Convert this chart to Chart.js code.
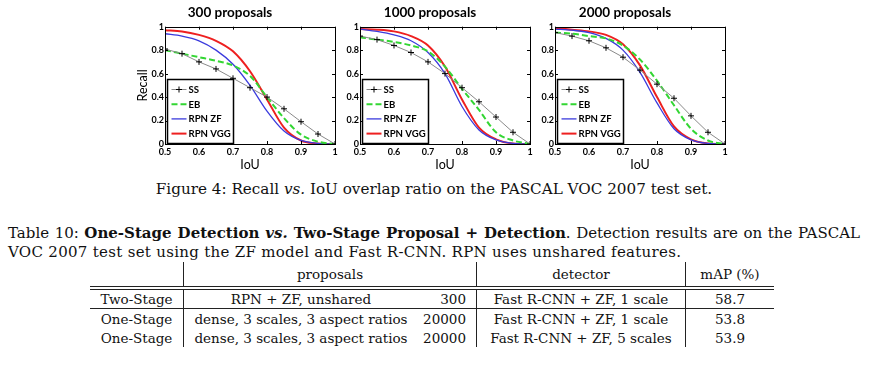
<!DOCTYPE html>
<html>
<head>
<meta charset="utf-8">
<script src="https://cdn.jsdelivr.net/npm/chart.js@4/dist/chart.umd.min.js"></script>
<style>
  body { margin: 0; background: #fff; width: 885px; height: 379px; position: relative; overflow: hidden; }
  canvas { position: absolute; top: 0; }
  .serif { font-family: 'DejaVu Serif', 'Liberation Serif', serif; color: #111; }
  #figcap { position: absolute; top: 180px; left: 8px; width: 852px; text-align: center; font-size: 15.2px; line-height: 19px; }
  #tabcap { position: absolute; top: 224px; left: 8px; width: 852px; font-size: 15px; line-height: 19px; letter-spacing: 0.3px; }
  #tabcap .l1 { text-align: justify; text-align-last: justify; letter-spacing: 0; }
  table { position: absolute; left: 90px; top: 262px; border-collapse: collapse; font-size: 13.5px; }
  td { padding: 0; text-align: center; white-space: nowrap; }
  td.bl { border-left: 1px solid #222; }
  td.num { text-align: right; padding-right: 10px; }
  tr.hd td { height: 24px; border-bottom: 4px double #222; }
  tr.r1 td { height: 18px; border-bottom: 1px solid #222; }
  tr.r2 td, tr.r3 td { height: 19px; }
</style>
</head>
<body>
<canvas id="c1" width="222" height="172" style="left:125px"></canvas>
<canvas id="c2" width="212" height="172" style="left:330px"></canvas>
<canvas id="c3" width="212" height="172" style="left:525px"></canvas>

<div id="figcap" class="serif">Figure 4: Recall <i>vs.</i> IoU overlap ratio on the PASCAL VOC 2007 test set.</div>

<div id="tabcap" class="serif">
  <div class="l1">Table 10: <b>One-Stage Detection <i>vs.</i> Two-Stage Proposal + Detection</b>. Detection results are on the PASCAL</div>
  <div>VOC 2007 test set using the ZF model and Fast R-CNN. RPN uses unshared features.</div>
</div>

<table class="serif">
  <tr class="hd"><td style="width:93px"></td><td class="bl" colspan="2">proposals</td><td class="bl">detector</td><td class="bl">mAP (%)</td></tr>
  <tr class="r1"><td>Two-Stage</td><td class="bl" style="width:234px">RPN + ZF, unshared</td><td class="num" style="width:48px">300</td><td class="bl" style="width:208px">Fast R-CNN + ZF, 1 scale</td><td class="bl" style="width:88px">58.7</td></tr>
  <tr class="r2"><td>One-Stage</td><td class="bl">dense, 3 scales, 3 aspect ratios</td><td class="num">20000</td><td class="bl">Fast R-CNN + ZF, 1 scale</td><td class="bl">53.8</td></tr>
  <tr class="r3"><td>One-Stage</td><td class="bl">dense, 3 scales, 3 aspect ratios</td><td class="num">20000</td><td class="bl">Fast R-CNN + ZF, 5 scales</td><td class="bl">53.9</td></tr>
</table>

<script>
// data
const chartTitles = ['300 proposals', '1000 proposals', '2000 proposals'];
const seriesNames = ['SS', 'EB', 'RPN ZF', 'RPN VGG'];
const iou = [0.5, 0.55, 0.6, 0.65, 0.7, 0.75, 0.8, 0.85, 0.9, 0.95, 1];

const ss300 = [0.81, 0.77, 0.70, 0.64, 0.56, 0.48, 0.40, 0.30, 0.19, 0.085, 0];
const eb300 = [0.80, 0.77, 0.74, 0.71, 0.67, 0.58, 0.40, 0.22, 0.08, 0.02, 0];
const zf300 = [0.94, 0.92, 0.88, 0.80, 0.68, 0.50, 0.28, 0.11, 0.03, 0.005, 0];
const vgg300 = [0.97, 0.96, 0.93, 0.88, 0.79, 0.62, 0.38, 0.14, 0.03, 0.005, 0];

const ss1000 = [0.92, 0.89, 0.84, 0.78, 0.70, 0.60, 0.48, 0.36, 0.23, 0.10, 0];
const eb1000 = [0.91, 0.89, 0.87, 0.84, 0.79, 0.66, 0.47, 0.29, 0.10, 0.03, 0];
const zf1000 = [0.98, 0.96, 0.93, 0.88, 0.78, 0.60, 0.32, 0.12, 0.035, 0.005, 0];
const vgg1000 = [0.98, 0.975, 0.96, 0.92, 0.84, 0.66, 0.38, 0.14, 0.04, 0.005, 0];

const ss2000 = [0.95, 0.92, 0.88, 0.82, 0.74, 0.63, 0.51, 0.39, 0.24, 0.10, 0];
const eb2000 = [0.95, 0.94, 0.92, 0.90, 0.84, 0.72, 0.54, 0.33, 0.13, 0.03, 0];
const zf2000 = [0.98, 0.97, 0.95, 0.90, 0.80, 0.61, 0.35, 0.13, 0.035, 0.005, 0];
const vgg2000 = [0.99, 0.975, 0.96, 0.93, 0.85, 0.67, 0.40, 0.15, 0.04, 0.005, 0];

const xTicks = [0.5, 0.6, 0.7, 0.8, 0.9, 1];
const xTickLabels = ['0.5', '0.6', '0.7', '0.8', '0.9', '1'];
const yTicks = [0, 0.2, 0.4, 0.6, 0.8, 1];
const yTickLabels = ['0', '0.2', '0.4', '0.6', '0.8', '1'];

const font = 'Lato, "Open Sans", sans-serif';

function points(ys) {
  return iou.map((x, i) => ({ x: x, y: ys[i] }));
}

// frame, inward ticks and the boxed legend, matlab style
const framePlugin = {
  id: 'frame',
  afterDatasetsDraw(chart) {
    const ctx = chart.ctx;
    const a = chart.chartArea;
    const sx = chart.scales.x;
    const sy = chart.scales.y;
    ctx.save();
    ctx.strokeStyle = '#000';
    ctx.lineWidth = 1;
    ctx.beginPath();
    for (let i = 0; i < xTicks.length; i++) {
      let px = Math.round(sx.getPixelForValue(xTicks[i])) + 0.5;
      ctx.moveTo(px, a.bottom); ctx.lineTo(px, a.bottom - 3);
      ctx.moveTo(px, a.top); ctx.lineTo(px, a.top + 3);
    }
    for (let i = 0; i < yTicks.length; i++) {
      let py = Math.round(sy.getPixelForValue(yTicks[i])) + 0.5;
      ctx.moveTo(a.left, py); ctx.lineTo(a.left + 3, py);
      ctx.moveTo(a.right, py); ctx.lineTo(a.right - 3, py);
    }
    ctx.stroke();
    ctx.strokeRect(Math.round(a.left) + 0.5, Math.round(a.top) + 0.5, Math.round(a.right - a.left), Math.round(a.bottom - a.top));

    // legend box in the lower left corner
    let bx = Math.round(a.left) + 2.5;
    let by = Math.round(a.bottom) - 64.5;
    ctx.fillStyle = '#fff';
    ctx.fillRect(bx, by, 66, 64);
    ctx.lineWidth = 1.5;
    ctx.strokeRect(bx, by, 66, 64);
    ctx.font = 'bold 9.6px ' + font;
    ctx.textBaseline = 'middle';
    chart.data.datasets.forEach((ds, i) => {
      let ly = by + 10 + i * 14.7;
      ctx.strokeStyle = ds.borderColor;
      ctx.lineWidth = ds.borderWidth;
      ctx.setLineDash(ds.borderDash || []);
      ctx.beginPath();
      ctx.moveTo(bx + 4, ly); ctx.lineTo(bx + 19, ly);
      ctx.stroke();
      ctx.setLineDash([]);
      if (ds.pointRadius > 0) {
        ctx.strokeStyle = '#000';
        ctx.lineWidth = 1;
        ctx.beginPath();
        ctx.moveTo(bx + 11.5, ly - 3); ctx.lineTo(bx + 11.5, ly + 3);
        ctx.moveTo(bx + 8.5, ly); ctx.lineTo(bx + 14.5, ly);
        ctx.stroke();
      }
      ctx.fillStyle = '#000';
      ctx.fillText(ds.label, bx + 21, ly + 0.5);
    });
    ctx.restore();
  }
};

function makeChart(id, title, ss, eb, zf, vgg, yWidth, showRecall) {
  return new Chart(document.getElementById(id), {
    type: 'line',
    data: {
      datasets: [
        { label: seriesNames[0], data: points(ss), borderColor: '#8a8a8a', borderWidth: 1,
          pointStyle: 'cross', pointRadius: 3, pointBorderColor: '#000', pointBorderWidth: 1 },
        { label: seriesNames[1], data: points(eb), borderColor: '#33d633', borderWidth: 2,
          borderDash: [6, 3], pointRadius: 0, cubicInterpolationMode: 'monotone' },
        { label: seriesNames[2], data: points(zf), borderColor: '#3b3bdd', borderWidth: 1.3,
          pointRadius: 0, cubicInterpolationMode: 'monotone' },
        { label: seriesNames[3], data: points(vgg), borderColor: '#ee2020', borderWidth: 2,
          pointRadius: 0, cubicInterpolationMode: 'monotone' }
      ]
    },
    options: {
      responsive: false,
      animation: false,
      layout: { padding: { right: 12 } },
      plugins: {
        legend: { display: false },
        tooltip: { enabled: false },
        title: {
          display: true,
          text: title,
          color: '#000',
          font: { family: font, size: 13.5, weight: 'bold' },
          padding: { top: 5, bottom: 5.5 }
        }
      },
      scales: {
        x: {
          type: 'linear', min: 0.5, max: 1,
          grid: { display: false, drawTicks: false },
          border: { display: false },
          afterBuildTicks: (s) => { s.ticks = xTicks.map(v => ({ value: v })); },
          afterFit: (s) => { s.height = 28; },
          ticks: {
            color: '#000', padding: 3, maxRotation: 0,
            font: { family: font, size: 9, weight: 'bold' },
            callback: (v) => xTickLabels[xTicks.indexOf(v)]
          },
          title: { display: true, text: 'IoU', color: '#000',
            font: { family: font, size: 12.5 }, padding: { top: 0, bottom: 0 } }
        },
        y: {
          min: 0, max: 1,
          grid: { display: false, drawTicks: false },
          border: { display: false },
          afterBuildTicks: (s) => { s.ticks = yTicks.map(v => ({ value: v })); },
          afterFit: (s) => { s.width = yWidth; },
          ticks: {
            color: '#000', padding: 1,
            font: { family: font, size: 9, weight: 'bold' },
            callback: (v) => yTickLabels[yTicks.indexOf(v)]
          },
          title: { display: showRecall, text: 'Recall', color: '#000',
            font: { family: font, size: 12.5 }, padding: { top: 10, bottom: 0 } }
        }
      }
    },
    plugins: [framePlugin]
  });
}

makeChart('c1', chartTitles[0], ss300, eb300, zf300, vgg300, 40, true);
makeChart('c2', chartTitles[1], ss1000, eb1000, zf1000, vgg1000, 30, false);
makeChart('c3', chartTitles[2], ss2000, eb2000, zf2000, vgg2000, 30, false);
</script>
</body>
</html>
